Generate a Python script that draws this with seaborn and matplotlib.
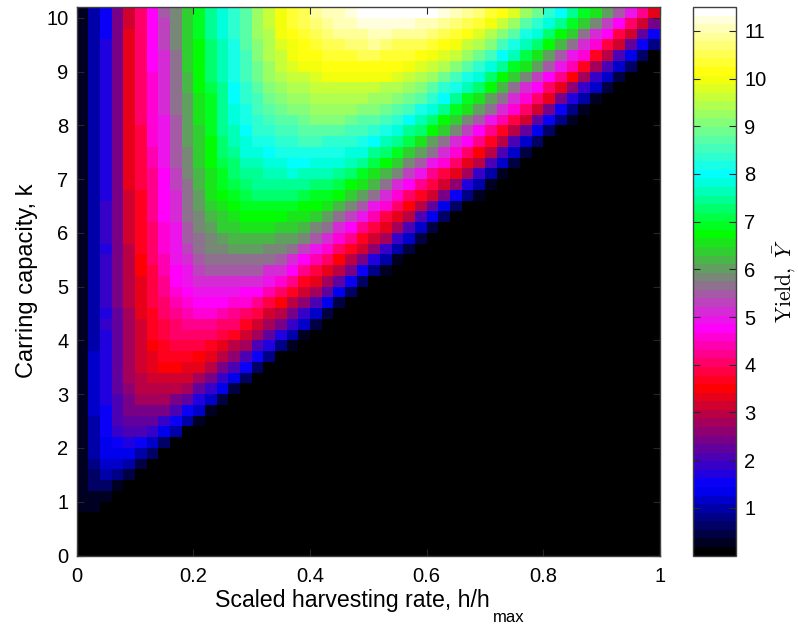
import numpy as np
import pandas as pd
import seaborn as sns
import matplotlib
matplotlib.use('Agg')
import matplotlib.pyplot as plt
from matplotlib.colors import LinearSegmentedColormap

# values, one list per row of k, top row (k=10.1) first.
# each list runs from h/hmax=0.01 in steps of 0.02, everything after the end is 0
yield_rows = [
    [.3,1.0,1.6,2.4,3.2,4.0,4.8,5.4,5.9,6.4,6.9,7.4,7.9,8.4,8.8,9.3,9.7,10.0,10.4,10.6,10.9,11.0,11.1,11.3,11.4,11.4,11.4,11.4,11.4,11.4,11.4,11.3,11.0,10.9,10.7,10.4,10.1,9.8,9.3,8.9,8.4,8.0,7.5,7.0,6.5,6.0,5.4,4.9,4.2,3.4],
    [.3,1.0,1.6,2.4,3.2,4.0,4.8,5.3,5.9,6.4,6.9,7.4,7.9,8.3,8.8,9.3,9.7,10.0,10.3,10.5,10.7,10.9,11.0,11.1,11.2,11.2,11.3,11.2,11.2,11.1,11.0,10.9,10.7,10.5,10.3,10.0,9.6,9.2,8.8,8.3,7.9,7.4,6.9,6.4,5.9,5.3,4.8,4.0,3.2,2.4],
    [.3,1.0,1.6,2.5,3.3,4.0,4.7,5.3,5.8,6.3,6.9,7.4,7.8,8.3,8.7,9.2,9.5,9.9,10.2,10.4,10.6,10.7,10.8,10.9,10.9,11.0,11.0,10.9,10.9,10.8,10.7,10.6,10.4,10.2,9.8,9.5,9.1,8.7,8.2,7.8,7.3,6.8,6.3,5.7,5.2,4.7,3.9,3.1,2.3,1.5],
    [.3,1.0,1.7,2.5,3.3,4.0,4.7,5.3,5.8,6.3,6.8,7.3,7.7,8.2,8.7,9.1,9.4,9.8,10.0,10.2,10.4,10.5,10.6,10.7,10.7,10.8,10.7,10.6,10.6,10.5,10.4,10.2,10.0,9.7,9.4,9.0,8.6,8.1,7.7,7.2,6.7,6.2,5.7,5.2,4.6,3.8,3.1,2.3,1.5,.8],
    [.3,1.0,1.7,2.5,3.3,4.0,4.7,5.2,5.7,6.3,6.8,7.3,7.7,8.1,8.6,9.0,9.4,9.7,9.9,10.1,10.2,10.3,10.4,10.4,10.5,10.5,10.4,10.4,10.3,10.2,10.0,9.8,9.6,9.2,8.9,8.5,8.0,7.6,7.1,6.6,6.1,5.5,5.0,4.5,3.7,2.9,2.1,1.3,.7,.1],
    [.3,1.0,1.7,2.5,3.3,4.1,4.7,5.2,5.7,6.3,6.7,7.2,7.6,8.1,8.6,8.9,9.3,9.6,9.8,9.9,10.0,10.1,10.2,10.2,10.2,10.2,10.1,10.1,9.9,9.8,9.6,9.4,9.1,8.7,8.3,7.8,7.4,7.0,6.5,6.0,5.4,4.9,4.4,3.6,2.8,2.1,1.2,.6],
    [.3,1.0,1.7,2.5,3.3,4.1,4.6,5.2,5.7,6.2,6.7,7.2,7.6,8.1,8.5,8.9,9.2,9.4,9.6,9.7,9.8,9.9,10.0,10.0,10.0,9.9,9.9,9.8,9.6,9.5,9.2,8.9,8.6,8.2,7.8,7.3,6.8,6.4,5.9,5.3,4.8,4.3,3.5,2.7,1.9,1.1,.5],
    [.3,1.0,1.7,2.5,3.3,4.0,4.6,5.1,5.7,6.2,6.7,7.1,7.5,8.0,8.4,8.8,9.0,9.3,9.4,9.5,9.6,9.7,9.7,9.7,9.7,9.6,9.5,9.4,9.3,9.1,8.8,8.4,8.1,7.6,7.2,6.7,6.2,5.7,5.2,4.7,4.1,3.4,2.6,1.8,1.1,.4],
    [.3,1.0,1.7,2.5,3.3,4.0,4.6,5.1,5.6,6.1,6.6,7.0,7.5,8.0,8.3,8.6,8.9,9.1,9.2,9.3,9.4,9.5,9.5,9.5,9.4,9.3,9.2,9.1,8.9,8.7,8.3,8.0,7.5,7.0,6.6,6.1,5.7,5.1,4.6,4.0,3.3,2.5,1.7,1.0,.3],
    [.3,.9,1.7,2.5,3.3,4.0,4.5,5.1,5.6,6.1,6.5,7.0,7.4,7.9,8.2,8.5,8.7,8.9,9.0,9.1,9.2,9.2,9.2,9.2,9.1,9.0,8.9,8.7,8.5,8.2,7.9,7.4,7.0,6.5,6.1,5.6,5.1,4.5,4.0,3.2,2.4,1.6,.8,.3],
    [.3,.9,1.7,2.5,3.3,4.0,4.5,5.0,5.5,6.0,6.5,6.9,7.4,7.8,8.1,8.4,8.6,8.7,8.8,8.9,9.0,9.0,9.0,8.9,8.8,8.7,8.6,8.4,8.0,7.7,7.3,6.8,6.4,5.9,5.4,4.9,4.4,3.9,3.1,2.3,1.5,.8,.2],
    [.3,.9,1.7,2.5,3.3,3.9,4.5,5.0,5.5,6.0,6.4,6.9,7.4,7.7,8.0,8.3,8.4,8.5,8.6,8.7,8.7,8.7,8.7,8.6,8.5,8.4,8.1,7.9,7.5,7.2,6.7,6.3,5.8,5.3,4.8,4.2,3.7,3.0,2.2,1.4,.7,.1],
    [.3,.9,1.7,2.5,3.3,3.9,4.5,5.0,5.4,6.0,6.4,6.8,7.3,7.6,7.9,8.1,8.2,8.3,8.4,8.5,8.5,8.4,8.4,8.3,8.2,8.0,7.7,7.4,7.1,6.6,6.1,5.7,5.2,4.7,4.2,3.7,2.9,2.1,1.2,.6],
    [.3,.9,1.7,2.5,3.3,3.9,4.4,5.0,5.4,5.9,6.4,6.8,7.2,7.5,7.8,7.9,8.0,8.1,8.2,8.2,8.2,8.2,8.1,7.9,7.8,7.5,7.3,6.9,6.4,6.0,5.6,5.1,4.6,4.0,3.5,3.0,2.1,1.2,.5],
    [.3,.9,1.7,2.5,3.3,3.8,4.4,4.9,5.4,5.8,6.3,6.7,7.1,7.3,7.6,7.7,7.8,7.9,8.0,8.0,7.9,7.9,7.8,7.6,7.4,7.1,6.8,6.4,5.9,5.4,5.0,4.5,4.0,3.4,2.9,2.0,1.1,.4],
    [.3,.9,1.7,2.5,3.3,3.8,4.3,4.8,5.3,5.8,6.2,6.6,7.0,7.2,7.4,7.5,7.6,7.7,7.8,7.7,7.6,7.6,7.4,7.2,7.0,6.6,6.2,5.8,5.3,4.9,4.3,3.9,3.3,2.7,1.8,1.0,.3],
    [.3,.9,1.7,2.5,3.3,3.8,4.3,4.8,5.3,5.7,6.2,6.5,6.9,7.1,7.3,7.4,7.4,7.5,7.5,7.4,7.3,7.2,7.1,6.8,6.5,6.2,5.6,5.2,4.8,4.3,3.8,3.2,2.6,1.7,.9,.2],
    [.3,.9,1.7,2.5,3.2,3.7,4.3,4.7,5.2,5.7,6.1,6.5,6.7,6.9,7.1,7.2,7.2,7.2,7.2,7.1,7.0,6.9,6.7,6.4,6.0,5.6,5.2,4.6,4.1,3.7,3.1,2.4,1.5,.8,.2],
    [.3,.9,1.8,2.5,3.2,3.7,4.2,4.7,5.2,5.6,6.0,6.4,6.6,6.8,6.9,6.9,7.0,7.0,6.9,6.8,6.7,6.5,6.2,5.9,5.4,5.0,4.6,4.0,3.5,3.0,2.3,1.4,.7,.1],
    [.3,.9,1.8,2.5,3.2,3.7,4.2,4.7,5.1,5.6,5.9,6.2,6.4,6.6,6.7,6.7,6.7,6.7,6.6,6.5,6.3,6.0,5.7,5.3,4.9,4.4,3.9,3.4,2.9,2.1,1.3,.6,.1],
    [.3,1.0,1.8,2.5,3.1,3.6,4.1,4.6,5.0,5.5,5.8,6.1,6.3,6.4,6.5,6.5,6.5,6.4,6.3,6.2,5.9,5.6,5.2,4.7,4.3,3.8,3.3,2.8,2.0,1.2,.5],
    [.3,1.0,1.8,2.5,3.1,3.6,4.1,4.6,5.0,5.4,5.7,5.9,6.1,6.2,6.2,6.2,6.2,6.1,6.0,5.8,5.5,5.1,4.6,4.2,3.7,3.2,2.7,1.9,1.1,.5],
    [.3,1.0,1.7,2.5,3.0,3.6,4.1,4.5,4.9,5.3,5.6,5.8,5.9,6.0,6.0,6.0,5.9,5.8,5.6,5.3,5.0,4.5,4.1,3.6,3.1,2.6,1.8,1.0,.4],
    [.3,1.0,1.8,2.5,3.0,3.5,4.0,4.4,4.9,5.2,5.4,5.6,5.7,5.7,5.7,5.7,5.6,5.4,5.2,4.8,4.4,4.0,3.5,3.0,2.5,1.7,.9,.3],
    [.3,1.0,1.8,2.4,3.0,3.5,3.9,4.4,4.8,5.0,5.3,5.4,5.5,5.5,5.4,5.4,5.2,5.1,4.7,4.3,3.9,3.4,2.9,2.4,1.5,.8,.2],
    [.3,1.0,1.8,2.4,2.9,3.4,3.9,4.3,4.7,4.9,5.1,5.2,5.2,5.2,5.2,5.1,4.9,4.5,4.2,3.7,3.3,2.8,2.3,1.5,.7,.1],
    [.3,1.0,1.8,2.4,2.9,3.4,3.8,4.3,4.6,4.8,4.9,5.0,5.0,4.9,4.8,4.7,4.4,4.1,3.6,3.2,2.7,2.2,1.4,.6],
    [.3,1.0,1.8,2.4,2.9,3.3,3.8,4.1,4.4,4.6,4.7,4.8,4.7,4.6,4.5,4.2,3.9,3.5,3.0,2.6,2.0,1.3,.5],
    [.3,1.0,1.7,2.3,2.8,3.3,3.7,4.1,4.3,4.4,4.5,4.5,4.4,4.3,4.1,3.8,3.2,2.9,2.4,1.9,1.2,.4],
    [.3,1.0,1.8,2.3,2.8,3.2,3.6,3.9,4.1,4.2,4.2,4.2,4.1,4.0,3.7,3.2,2.8,2.4,1.8,1.1,.4],
    [.3,1.0,1.7,2.3,2.8,3.2,3.6,3.8,4.0,4.0,4.0,4.0,3.8,3.6,3.2,2.8,2.2,1.7,1.0,.3],
    [.3,1.0,1.7,2.3,2.7,3.2,3.5,3.7,3.8,3.8,3.8,3.7,3.4,3.0,2.7,2.1,1.7,.8,.2],
    [.3,1.1,1.7,2.2,2.7,3.1,3.4,3.6,3.6,3.6,3.5,3.3,3.0,2.6,2.1,1.6,.8,.1],
    [.3,1.1,1.7,2.3,2.7,3.1,3.4,3.5,3.5,3.4,3.3,3.0,2.5,2.0,1.5,.7],
    [.3,1.1,1.7,2.2,2.7,3.0,3.2,3.2,3.2,3.1,2.8,2.4,1.9,1.4,.6],
    [.3,1.1,1.7,2.2,2.6,2.9,3.0,3.0,2.9,2.7,2.3,1.8,1.3,.5],
    [.3,1.1,1.7,2.1,2.5,2.7,2.8,2.7,2.5,2.2,1.7,1.2,.4],
    [.3,1.1,1.6,2.0,2.4,2.5,2.5,2.4,2.0,1.6,1.1,.3],
    [.3,1.0,1.6,2.0,2.2,2.2,2.2,1.9,1.5,1.0,.2],
    [.3,1.0,1.5,1.9,2.0,2.0,1.8,1.4,.9,.1],
    [.3,.9,1.4,1.6,1.7,1.6,1.2,.7,.1],
    [.3,.9,1.3,1.4,1.4,1.0,.6],
    [.3,.8,1.1,1.1,.9,.5],
    [.3,.7,.9,.8,.4],
    [.3,.6,.6,.3],
    [.3,.3,.2],
    [.2,.2],
]

n_cols = 50
n_rows = 51   # k from 0 to 10.2 in steps of 0.2
h_step = 0.02
k_step = 0.2
h_ticks = [0, 0.2, 0.4, 0.6, 0.8, 1]
h_labels = ['0', '0.2', '0.4', '0.6', '0.8', '1']
k_ticks = [0, 1, 2, 3, 4, 5, 6, 7, 8, 9, 10]
cbar_ticks = [1, 2, 3, 4, 5, 6, 7, 8, 9, 10, 11]
yield_max = 11.5

plt.rcParams['font.family'] = ['Liberation Sans', 'DejaVu Sans']

# pad every row with zeros, bottom row first so that k goes upwards
grid = np.zeros((n_rows, n_cols))
for i, row in enumerate(yield_rows):
    grid[n_rows - 1 - i, :len(row)] = row
grid = pd.DataFrame(grid)

cmap = LinearSegmentedColormap.from_list('yield', [
    (0.0, '#000000'), (0.12, '#0000ff'), (0.304, '#ff0000'), (0.415, '#ff00ff'),
    (0.589, '#00ff00'), (0.697, '#00ffff'), (0.882, '#ffff00'), (1.0, '#ffffff')], N=64)

fig = plt.figure(figsize=(7.98, 6.25), dpi=100)
ax = fig.add_axes([76.7 / 798, 69.5 / 625, 583.3 / 798, 548.5 / 625])
cax = fig.add_axes([692.7 / 798, 69.5 / 625, 43.3 / 798, 548.5 / 625])

sns.heatmap(grid, ax=ax, cbar_ax=cax, cmap=cmap, vmin=0, vmax=yield_max,
            xticklabels=False, yticklabels=False)
ax.set_ylim(0, n_rows)
ax.set_xlim(0, n_cols)

ax.set_xticks([h / h_step for h in h_ticks])
ax.set_xticklabels(h_labels, rotation=0)
ax.set_yticks([k / k_step for k in k_ticks])
ax.set_yticklabels([str(k) for k in k_ticks], rotation=0)
ax.tick_params(direction='in', length=5, width=0.8, top=True, right=True,
               labelsize=14.5, color='#262626')
ax.tick_params(axis='x', pad=8)
ax.tick_params(axis='y', pad=6)
for s in ax.spines.values():
    s.set_visible(True)
    s.set_color('#404040')
    s.set_linewidth(1)

# subscript sits lower than mathtext puts it, so it is a text of its own
ax.set_xlabel('Scaled harvesting rate, h/h', fontsize=16.7, ha='left', va='baseline')
ax.xaxis.set_label_coords(0.2371, -0.0935)
ax.text(0.7137, -0.1215, 'max', fontsize=12, transform=ax.transAxes, ha='left', va='baseline')
ax.set_ylabel('Carring capacity, k', fontsize=17, labelpad=6)

cbar = ax.collections[0].colorbar
cbar.set_ticks(cbar_ticks)
cbar.set_ticklabels([str(t) for t in cbar_ticks])
cax.tick_params(direction='in', length=5, width=0.8, left=True, right=True,
                labelsize=14.5, color='#262626', pad=6)
cbar.outline.set_visible(True)
cbar.outline.set_edgecolor('#404040')
cbar.outline.set_linewidth(1)
cax.set_ylabel(r'$\mathrm{Yield,}\ \bar{\mathit{Y}}$', fontsize=15.5, math_fontfamily='cm', labelpad=4)

fig.savefig('out.png', dpi=100)
plt.close()
